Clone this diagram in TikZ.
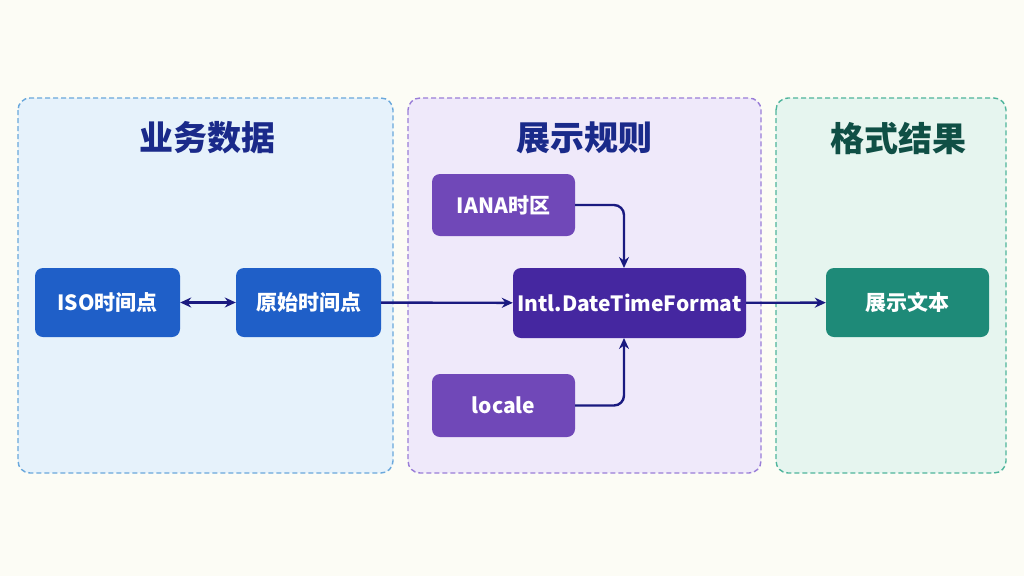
\documentclass[tikz,border=0pt]{standalone}
\usepackage{fontspec}
\setmainfont{Noto Sans CJK SC}
\usetikzlibrary{arrows.meta}
\definecolor{bg}{HTML}{FCFCF5}
\definecolor{arr}{HTML}{1A1A80}
\definecolor{p1d}{HTML}{6AA8DC}\definecolor{p1f}{HTML}{E6F2FB}
\definecolor{p2d}{HTML}{9A7ED8}\definecolor{p2f}{HTML}{EFE9FA}
\definecolor{p3d}{HTML}{4FB59C}\definecolor{p3f}{HTML}{E6F5EF}
\definecolor{tblue}{HTML}{1A2A8A}\definecolor{tteal}{HTML}{0F4F45}
\definecolor{cblue}{HTML}{1F5FC8}\definecolor{cpur}{HTML}{7048B8}
\definecolor{cdpur}{HTML}{4527A0}\definecolor{cteal}{HTML}{1E8A78}
\begin{document}
\begin{tikzpicture}[x=1pt,y=-1pt,
 panel/.style={draw=#1,dashed,line width=1.4pt,rounded corners=12pt,dash pattern=on 5pt off 3pt},
 box/.style={fill=#1,rounded corners=8pt,text=white,font=\bfseries\fontsize{21}{24}\selectfont,inner sep=0pt},
 title/.style={font=\bfseries\fontsize{34}{38}\selectfont},
 tip/.tip={Stealth[length=11pt,width=10pt]},
 ar/.style={draw=arr,line width=2.4pt,-tip}]
\fill[bg] (0,0) rectangle (1024,576);
\useasboundingbox (0,0) rectangle (1024,576);
\filldraw[panel=p1d,fill=p1f] (18,98) rectangle (393,473);
\filldraw[panel=p2d,fill=p2f] (408,98) rectangle (761,473);
\filldraw[panel=p3d,fill=p3f] (776,98) rectangle (1006,473);
\node[title,text=tblue] (t1) at (207,138) {业务数据};
\node[title,text=tblue] (t2) at (584,138) {展示规则};
\node[title,text=tteal] (t3) at (898,138) {格式结果};
\node[box=cblue,minimum width=145pt,minimum height=69pt] (iso) at (107.5,302.5) {ISO时间点};
\node[box=cblue,minimum width=145pt,minimum height=69pt] (raw) at (308.5,302.5) {原始时间点};
\node[box=cpur,minimum width=143pt,minimum height=62pt] (iana) at (503.5,205) {IANA时区};
\node[box=cdpur,minimum width=233pt,minimum height=70pt] (intl) at (629.5,303) {Intl.DateTimeFormat};
\node[box=cpur,minimum width=143pt,minimum height=63pt] (loc) at (503.5,405.5) {locale};
\node[box=cteal,minimum width=163pt,minimum height=69pt] (out) at (907.5,302.5) {展示文本};
\draw[ar,tip-tip] (iso) -- (raw);
\draw[ar] (raw) -- (intl);
\draw[ar,rounded corners=10pt] (iana.east) -| (624,268);
\draw[ar,rounded corners=10pt] (loc.east) -| (624,338);
\draw[ar] (intl) -- (out);
\end{tikzpicture}
\end{document}
